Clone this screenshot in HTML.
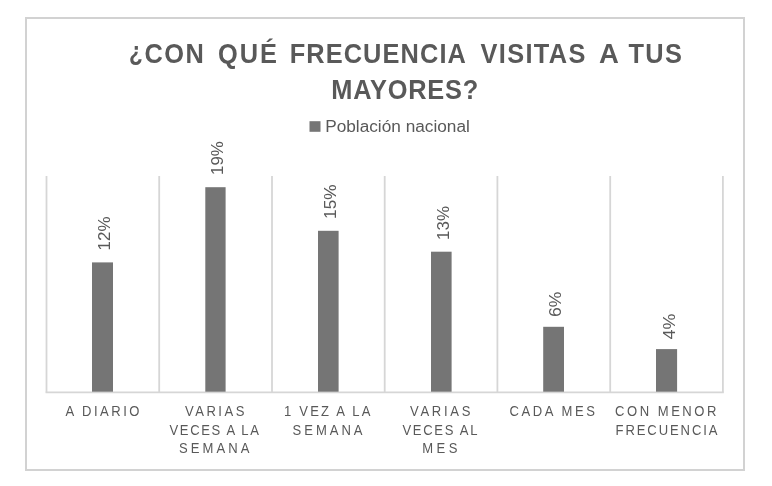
<!DOCTYPE html>
<html lang="es"><head><meta charset="utf-8"><title>¿Con qué frecuencia visitas a tus mayores?</title>
<style>
html,body{margin:0;padding:0;background:#fff;}
svg{display:block;}
text{font-family:"Liberation Sans",sans-serif;}
.t{font-weight:bold;fill:#595959;font-size:27px;}
.c{fill:#595959;font-size:14.2px;}
.d{fill:#595959;font-size:16.8px;}
.l{fill:#595959;font-size:15.8px;}
</style></head><body>
<svg width="772" height="486" viewBox="0 0 772 486">
<rect x="0" y="0" width="772" height="486" fill="#fff"/>
<rect x="26" y="18" width="718" height="452" fill="#fff" stroke="#d2d2d2" stroke-width="2"/>
<line x1="46.5" y1="176.0" x2="46.5" y2="392.5" stroke="#d6d6d6" stroke-width="1.8"/>
<line x1="159.2" y1="176.0" x2="159.2" y2="392.5" stroke="#d6d6d6" stroke-width="1.8"/>
<line x1="272.0" y1="176.0" x2="272.0" y2="392.5" stroke="#d6d6d6" stroke-width="1.8"/>
<line x1="384.7" y1="176.0" x2="384.7" y2="392.5" stroke="#d6d6d6" stroke-width="1.8"/>
<line x1="497.4" y1="176.0" x2="497.4" y2="392.5" stroke="#d6d6d6" stroke-width="1.8"/>
<line x1="610.2" y1="176.0" x2="610.2" y2="392.5" stroke="#d6d6d6" stroke-width="1.8"/>
<line x1="722.9" y1="176.0" x2="722.9" y2="392.5" stroke="#d6d6d6" stroke-width="1.8"/>
<line x1="45.6" y1="392.4" x2="723.8" y2="392.4" stroke="#d6d6d6" stroke-width="1.6"/>
<rect x="92.0" y="262.4" width="21.0" height="129.3" fill="#757575"/>
<rect x="205.3" y="187.2" width="20.3" height="204.5" fill="#757575"/>
<rect x="318.0" y="230.8" width="20.6" height="160.9" fill="#757575"/>
<rect x="431.0" y="251.7" width="20.6" height="140.0" fill="#757575"/>
<rect x="543.2" y="326.8" width="20.8" height="64.9" fill="#757575"/>
<rect x="656.0" y="349.1" width="21.1" height="42.6" fill="#757575"/>
<rect x="309.5" y="121.2" width="11" height="10.6" fill="#757575"/>
<text class="t" x="129.12" y="61.0" textLength="13.74" lengthAdjust="spacingAndGlyphs">¿</text>
<text class="t" transform="matrix(0.94 0 0 1 144.62 0)" x="0" y="62.6" textLength="62.94" lengthAdjust="spacing">CON</text>
<text class="t" transform="matrix(0.94 0 0 1 218.08 0)" x="0" y="62.6" textLength="62.55" lengthAdjust="spacing">QUÉ</text>
<text class="t" transform="matrix(0.94 0 0 1 289.68 0)" x="0" y="62.6" textLength="187.43" lengthAdjust="spacing">FRECUENCIA</text>
<text class="t" transform="matrix(0.94 0 0 1 480.52 0)" x="0" y="62.6" textLength="111.51" lengthAdjust="spacing">VISITAS</text>
<text class="t" x="599.08" y="62.6" textLength="19.86" lengthAdjust="spacingAndGlyphs">A</text>
<text class="t" transform="matrix(0.94 0 0 1 628.54 0)" x="0" y="62.6" textLength="56.77" lengthAdjust="spacing">TUS</text>
<text class="t" transform="matrix(0.94 0 0 1 331.18 0)" x="0" y="98.6" textLength="156.51" lengthAdjust="spacing">MAYORES?</text>
<text class="l" x="325.16" y="131.5" textLength="144.72" lengthAdjust="spacingAndGlyphs">Población nacional</text>
<text class="c" transform="matrix(0.92 0 0 1 65.46 0)" x="0" y="416.3" textLength="80.41" lengthAdjust="spacing">A DIARIO</text>
<text class="c" transform="matrix(0.92 0 0 1 184.98 0)" x="0" y="416.3" textLength="64.63" lengthAdjust="spacing">VARIAS</text>
<text class="c" transform="matrix(0.92 0 0 1 169.48 0)" x="0" y="434.8" textLength="97.28" lengthAdjust="spacing">VECES A LA</text>
<text class="c" transform="matrix(0.92 0 0 1 179.12 0)" x="0" y="453.5" textLength="76.50" lengthAdjust="spacing">SEMANA</text>
<text class="c" transform="matrix(0.92 0 0 1 284.08 0)" x="0" y="416.3" textLength="93.91" lengthAdjust="spacing">1 VEZ A LA</text>
<text class="c" transform="matrix(0.92 0 0 1 292.58 0)" x="0" y="434.8" textLength="76.00" lengthAdjust="spacing">SEMANA</text>
<text class="c" transform="matrix(0.92 0 0 1 410.06 0)" x="0" y="416.3" textLength="65.61" lengthAdjust="spacing">VARIAS</text>
<text class="c" transform="matrix(0.92 0 0 1 402.46 0)" x="0" y="434.8" textLength="81.48" lengthAdjust="spacing">VECES AL</text>
<text class="c" transform="matrix(0.92 0 0 1 422.16 0)" x="0" y="453.5" textLength="38.30" lengthAdjust="spacing">MES</text>
<text class="c" transform="matrix(0.92 0 0 1 509.6 0)" x="0" y="416.3" textLength="92.74" lengthAdjust="spacing">CADA MES</text>
<text class="c" transform="matrix(0.92 0 0 1 615.06 0)" x="0" y="416.3" textLength="110.17" lengthAdjust="spacing">CON MENOR</text>
<text class="c" transform="matrix(0.92 0 0 1 615.62 0)" x="0" y="434.8" textLength="110.67" lengthAdjust="spacing">FRECUENCIA</text>
<text class="d" transform="translate(110.48 250.42) rotate(-90)" textLength="33.84" lengthAdjust="spacingAndGlyphs">12%</text>
<text class="d" transform="translate(222.5 174.9) rotate(-90)" textLength="33.78" lengthAdjust="spacingAndGlyphs">19%</text>
<text class="d" transform="translate(335.98 218.9) rotate(-90)" textLength="34.34" lengthAdjust="spacingAndGlyphs">15%</text>
<text class="d" transform="translate(448.52 239.9) rotate(-90)" textLength="33.84" lengthAdjust="spacingAndGlyphs">13%</text>
<text class="d" transform="translate(561.02 316.9) rotate(-90)" textLength="25.28" lengthAdjust="spacingAndGlyphs">6%</text>
<text class="d" transform="translate(674.5 339.42) rotate(-90)" textLength="25.82" lengthAdjust="spacingAndGlyphs">4%</text>
</svg></body></html>
